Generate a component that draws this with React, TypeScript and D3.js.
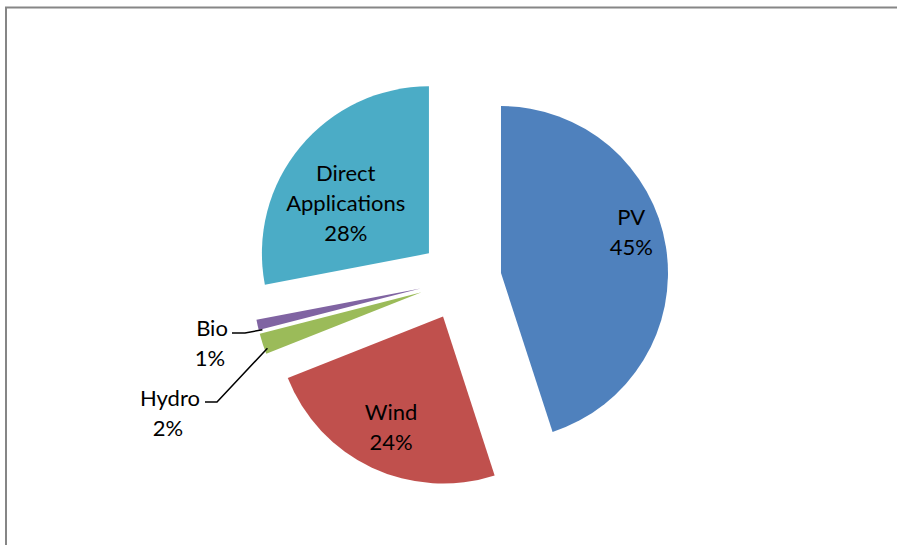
import * as d3 from 'd3';

const categories = ['PV', 'Wind', 'Hydro', 'Bio', 'Direct Applications'];
const shares = [45, 24, 2, 1, 28];
const colors = ['#4F81BD', '#C0504D', '#9BBB59', '#8064A2', '#4BACC6'];

const W = 897;
const H = 545;
const cx = 460.5;
const cy = 279.5;
const radius = 167;
const explode = 41;

// label placement (inside labels sit on the slice bisector, outside ones use leaders)
const insideLabel: Record<string, { r: number; dx: number; dy: number; lines: string[] }> = {
  PV: { r: 0.79, dx: 0, dy: -20, lines: ['PV'] },
  Wind: { r: 0.73, dx: 0, dy: 0, lines: ['Wind'] },
  'Direct Applications': { r: 0.6, dx: -6, dy: 14, lines: ['Direct', 'Applications'] },
};
const outsideLabel: Record<string, { x: number; y: number; elbow: [number, number]; lineStart: [number, number] }> = {
  Bio: { x: 212, y: 328, elbow: [245, 333], lineStart: [232, 333] },
  Hydro: { x: 170, y: 398, elbow: [217, 402], lineStart: [205, 402] },
};

export default function App() {
  const pie = d3
    .pie<number>()
    .sort(null)
    .value((d) => d);
  const arcs = pie(shares);
  const arc = d3.arc<d3.PieArcDatum<number>>().innerRadius(0).outerRadius(radius);

  const fontFamily = 'Lato, "Open Sans", sans-serif';
  const fs = 22;

  return (
    <div style={{ position: 'absolute', left: 0, top: 0, width: W, height: H, background: '#fff' }}>
      <svg width={W} height={H} style={{ display: 'block' }}>
        <path d={`M6,${H + 5} V7.5 H${W + 5}`} fill="none" stroke="#868686" strokeWidth={2} />
        {arcs.map((a, i) => {
          const name = categories[i];
          const mid = (a.startAngle + a.endAngle) / 2;
          const ox = cx + explode * Math.sin(mid);
          const oy = cy - explode * Math.cos(mid);
          const pct = `${shares[i]}%`;
          const inside = insideLabel[name];
          const outside = outsideLabel[name];
          let label = null;
          if (inside) {
            const lr = radius * inside.r;
            const lx = lr * Math.sin(mid) + inside.dx;
            const ly = -lr * Math.cos(mid) + inside.dy;
            const allLines = [...inside.lines, pct];
            const lh = 30;
            const top = ly - ((allLines.length - 1) * lh) / 2;
            label = (
              <text textAnchor="middle" fontFamily={fontFamily} fontSize={fs} fill="#000">
                {allLines.map((t, k) => (
                  <tspan key={k} x={lx} y={top + k * lh} dy="0.35em">
                    {t}
                  </tspan>
                ))}
              </text>
            );
          }
          let leader = null;
          if (outside) {
            const er = radius * 0.97;
            const ex = ox + er * Math.sin(mid);
            const ey = oy - er * Math.cos(mid) + 6;
            leader = (
              <g>
                <polyline
                  points={`${outside.lineStart[0]},${outside.lineStart[1]} ${outside.elbow[0]},${outside.elbow[1]} ${ex},${ey}`}
                  fill="none"
                  stroke="#000"
                  strokeWidth={1.5}
                />
                <text textAnchor="middle" fontFamily={fontFamily} fontSize={fs} fill="#000">
                  <tspan x={outside.x} y={outside.y} dy="0.35em">
                    {name}
                  </tspan>
                  <tspan x={outside.x - 2} y={outside.y + 30} dy="0.35em">
                    {pct}
                  </tspan>
                </text>
              </g>
            );
          }
          return (
            <g key={name}>
              <g transform={`translate(${ox},${oy})`}>
                <path d={arc(a) ?? ''} fill={colors[i]} />
                {label}
              </g>
              {leader}
            </g>
          );
        })}
      </svg>
    </div>
  );
}
